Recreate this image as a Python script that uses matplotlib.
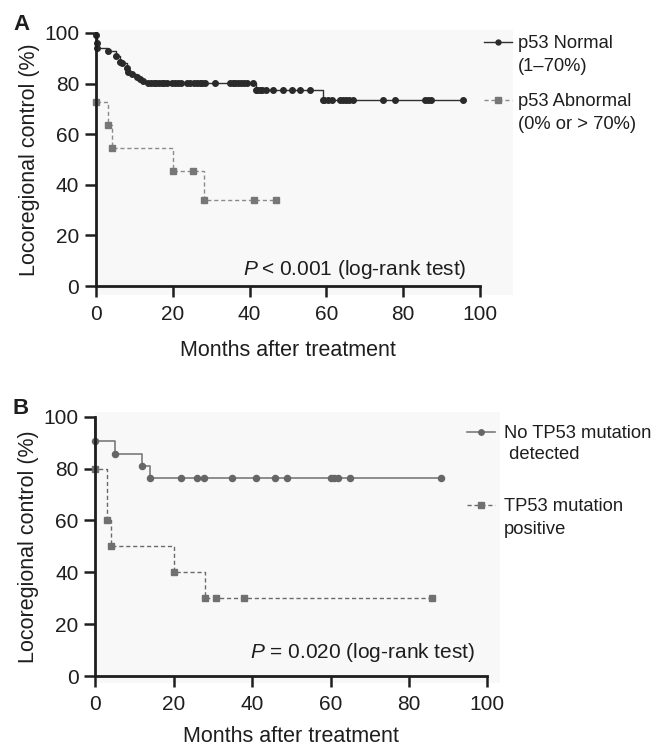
import matplotlib
matplotlib.use("Agg")
import matplotlib.pyplot as plt
from matplotlib.patches import Rectangle
from matplotlib.lines import Line2D
import numpy as np

plt.rcParams['font.family'] = ['Liberation Sans', 'DejaVu Sans']
plt.rcParams['mathtext.fontset'] = 'custom'
plt.rcParams['mathtext.it'] = 'Liberation Sans:italic'
plt.rcParams['mathtext.rm'] = 'Liberation Sans'

# ---------------- Data: Panel A ----------------
normal_t = [0, 0.1, 0.2, 0.3, 3.2, 5.2, 6.2, 6.9, 8.0, 8.4, 9.3, 10.6, 11.5, 12.2, 13.6, 41.6, 59.0]
normal_s = [100, 99.2, 95.9, 94.0, 92.9, 90.9, 88.7, 88.0, 86.0, 84.7, 83.8, 82.5, 81.7, 81.1, 80.4, 77.5, 73.5]
normal_end = 95.6
normal_cens = [14.3, 15.0, 15.7, 16.4, 17.1, 17.8, 18.5, 19.7, 20.5, 21.3, 22.2, 23.8, 24.6, 25.4, 26.2, 27.0, 27.7,
               28.4, 31.0, 34.9, 35.6, 36.3, 37.0, 37.7, 38.5, 39.2, 41.0,
               42.0, 42.6, 43.2, 44.2, 46.2, 48.8, 51.0, 53.1, 55.7,
               59.5, 60.4, 61.4, 63.5, 64.3, 65.1, 66.0, 66.8, 74.8, 77.9, 85.7, 86.5, 87.3, 95.6]

abn_t = [0, 0.05, 3.0, 4.2, 20.0, 28.0]
abn_s = [100, 72.7, 63.6, 54.5, 45.5, 34.1]
abn_end = 47.0
abn_cens = [25.2, 41.1, 47.0]

# ---------------- Data: Panel B ----------------
nomut_t = [0, 0.05, 5.0, 12.0, 14.0]
nomut_s = [100, 90.5, 85.7, 81.0, 76.2]
nomut_end = 88.1
nomut_cens = [21.9, 25.9, 27.8, 34.8, 40.9, 45.8, 49.0, 60.0, 60.9, 61.9, 65.1, 88.1]

mut_t = [0, 0.05, 3.0, 4.0, 20.0, 28.0]
mut_s = [100, 80.0, 60.0, 50.0, 40.0, 30.0]
mut_end = 86.0
mut_cens = [30.8, 38.0, 86.0]

xticks = [0, 20, 40, 60, 80, 100]
yticks = [0, 20, 40, 60, 80, 100]

W, H = 653, 746
fig = plt.figure(figsize=(W / 100, H / 100), dpi=100)

TXT = '#1e1e1e'


def frac_rect(l, t, r, b):
    return [l / W, 1 - b / H, (r - l) / W, (b - t) / H]


# light grey plot backgrounds
fig.patches.append(Rectangle((96 / W, 1 - 295 / H), (513 - 96) / W, (295 - 30) / H,
                             transform=fig.transFigure, facecolor='#f8f8f8', edgecolor='none', zorder=-5))
fig.patches.append(Rectangle((95 / W, 1 - 683 / H), (500 - 95) / W, (683 - 412) / H,
                             transform=fig.transFigure, facecolor='#f8f8f8', edgecolor='none', zorder=-5))

axA = fig.add_axes(frac_rect(96, 33, 480, 286))
axB = fig.add_axes(frac_rect(95.3, 416.7, 487.3, 676))
for ax in (axA, axB):
    ax.set_zorder(2)


def level_at(ts, ss, t):
    idx = np.searchsorted(np.array(ts), t, side='right') - 1
    return ss[idx]


def km(ax, ts, ss, end, cens, color, mcolor, ls, marker, ms, lw, dashes=None):
    x = list(ts) + [end]
    y = list(ss) + [ss[-1]]
    kw = dict(where='post', color=color, lw=lw, ls=ls, zorder=3, clip_on=False)
    if dashes is not None:
        kw['dashes'] = dashes
    ax.step(x, y, **kw)
    mx = list(ts[1:]) + list(cens)
    my = list(ss[1:]) + [level_at(ts, ss, c) for c in cens]
    ax.plot(mx, my, ls='none', marker=marker, ms=ms, color=mcolor, mec=mcolor, zorder=4, clip_on=False)
    h = Line2D([], [], color=color, lw=lw, ls=ls, marker=marker, ms=ms - 0.5, mfc=mcolor, mec=mcolor,
               **({'dashes': dashes} if dashes is not None else {}))
    return h


hA1 = km(axA, normal_t, normal_s, normal_end, normal_cens, '#303030', '#2a2a2a', '-', 'o', 4.0, 1.0)
hA2 = km(axA, abn_t, abn_s, abn_end, abn_cens, '#8c8c8c', '#777777', '--', 's', 4.3, 1.0, dashes=(3, 2))

hB1 = km(axB, nomut_t, nomut_s, nomut_end, nomut_cens, '#7a7a7a', '#666666', '-', 'o', 4.4, 1.2)
hB2 = km(axB, mut_t, mut_s, mut_end, mut_cens, '#6a6a6a', '#707070', '--', 's', 4.4, 1.0, dashes=(3, 2))

for ax, xlp in ((axA, 11), (axB, 8)):
    ax.set_xlim(0, 100)
    ax.set_ylim(0, 100)
    ax.set_xticks(xticks)
    ax.set_yticks(yticks)
    ax.patch.set_visible(False)
    for s in ('top', 'right'):
        ax.spines[s].set_visible(False)
    for s in ('left', 'bottom'):
        ax.spines[s].set_linewidth(2.0)
        ax.spines[s].set_color(TXT)
        ax.spines[s].set_zorder(5)
    ax.tick_params(axis='x', direction='out', length=8, width=1.8, labelsize=15, colors=TXT, pad=6)
    ax.tick_params(axis='y', direction='out', length=8, width=1.8, labelsize=15, colors=TXT, pad=4)
    ax.set_xlabel('Months after treatment', fontsize=15.5, labelpad=xlp, color=TXT)
    ax.set_ylabel('Locoregional control (%)', fontsize=15.5, labelpad=3, color=TXT)

axA.text(0.966, 0.043, r'$P$' + '\u2009< 0.001 (log-rank test)', transform=axA.transAxes, fontsize=15,
         ha='right', va='baseline', color=TXT)
axB.text(0.969, 0.069, r'$P$' + ' = 0.020 (log-rank test)', transform=axB.transAxes, fontsize=15,
         ha='right', va='baseline', color=TXT)

fig.text(13 / W, 1 - 30 / H, 'A', fontsize=16, fontweight='bold', ha='left', va='baseline', color=TXT)
fig.text(13 / W, 1 - 414 / H, 'B', fontsize=16, fontweight='bold', ha='left', va='baseline', color=TXT)

blank = Line2D([], [], ls='none', marker=None)


def entry(handle, lines, x_px, ycenter_px, tpad, lsp):
    leg = fig.legend(handles=[handle, blank], labels=lines, loc='upper left',
                     bbox_to_anchor=(x_px / W, 1 - (ycenter_px - 7) / H),
                     frameon=False, fontsize=13.2, handlelength=1.55, handletextpad=tpad, borderpad=0,
                     borderaxespad=0, labelspacing=lsp, labelcolor=TXT)
    return leg


entry(hA1, ['p53 Normal', '(1\u201370%)'], 484, 42, 0.28, 0.34)
entry(hA2, ['p53 Abnormal', '(0% or > 70%)'], 484, 100, 0.28, 0.34)
entry(hB1, ['No TP53 mutation', ' detected'], 467, 432, 0.45, 0.24)
entry(hB2, ['TP53 mutation', 'positive'], 467, 505, 0.45, 0.30)

fig.savefig('out.png', dpi=100)
